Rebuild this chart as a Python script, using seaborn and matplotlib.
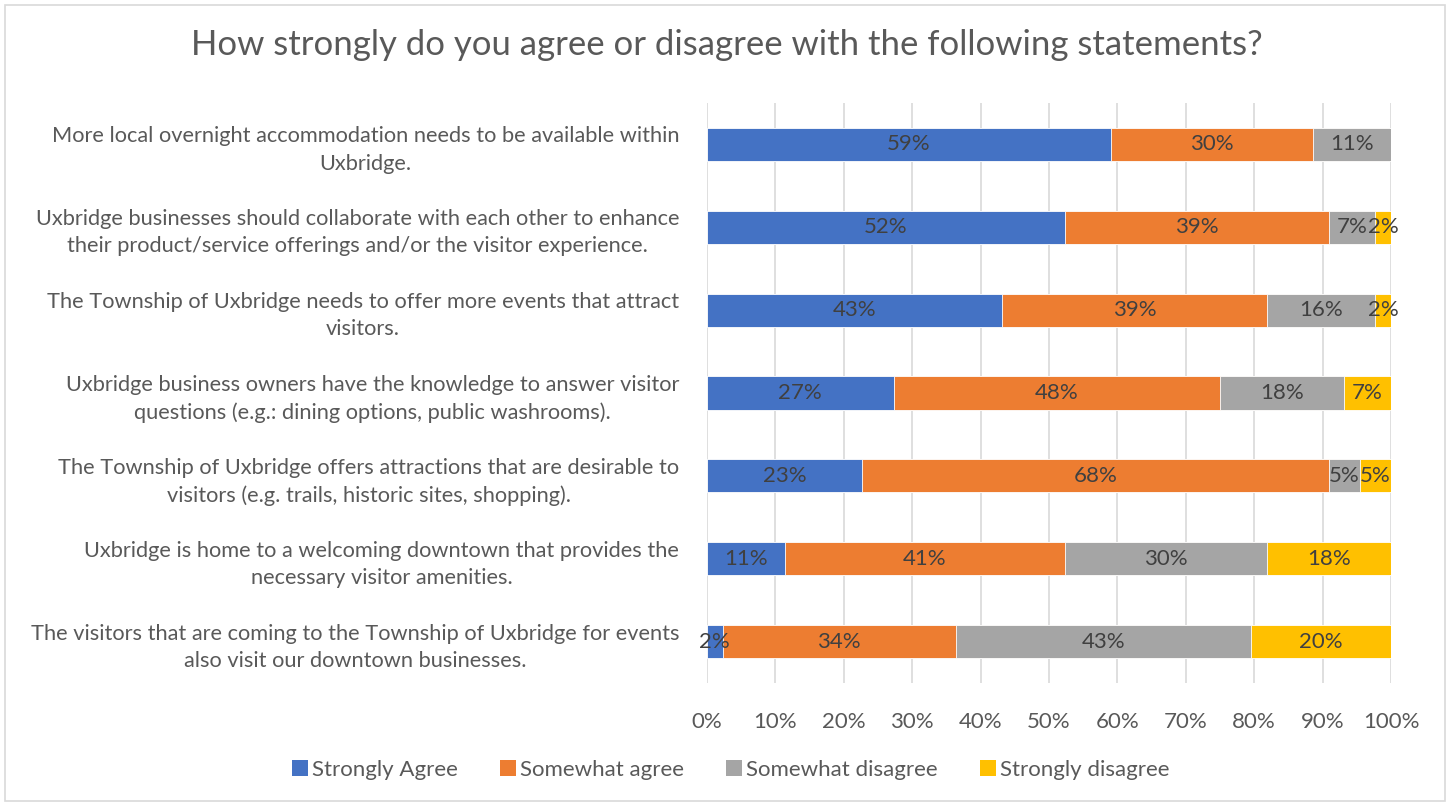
import matplotlib
matplotlib.use("Agg")
import matplotlib.pyplot as plt
from matplotlib.patches import Rectangle, Patch
import numpy as np
import pandas as pd
import seaborn as sns

# Survey statements (top to bottom)
statements = [
    "More local overnight accommodation needs to be available within\nUxbridge.",
    "Uxbridge businesses should collaborate with each other to enhance\ntheir product/service offerings and/or the visitor experience.",
    "The Township of Uxbridge needs to offer more events that attract\nvisitors.",
    "Uxbridge business owners have the knowledge to answer visitor\nquestions (e.g.: dining options, public washrooms).",
    "The Township of Uxbridge offers attractions that are desirable to\nvisitors (e.g. trails, historic sites, shopping).",
    "Uxbridge is home to a welcoming downtown that provides the\nnecessary visitor amenities.",
    "The visitors that are coming to the Township of Uxbridge for events\nalso visit our downtown businesses.",
]

# Share of responses (%) per statement
strongly_agree = [59.09, 52.27, 43.18, 27.27, 22.73, 11.36, 2.27]
somewhat_agree = [29.55, 38.64, 38.64, 47.73, 68.18, 40.91, 34.09]
somewhat_disagree = [11.36, 6.82, 15.91, 18.18, 4.55, 29.55, 43.18]
strongly_disagree = [0.0, 2.27, 2.27, 6.82, 4.55, 18.18, 20.45]

series_names = ["Strongly Agree", "Somewhat agree", "Somewhat disagree", "Strongly disagree"]
series_values = [strongly_agree, somewhat_agree, somewhat_disagree, strongly_disagree]
series_colors = ["#4472C4", "#ED7D31", "#A5A5A5", "#FFC000"]

x_ticks = [0, 10, 20, 30, 40, 50, 60, 70, 80, 90, 100]

sns.set_theme(style="white")
plt.rcParams["font.family"] = ["Lato", "DejaVu Sans"]

text_gray = "#595959"
label_gray = "#404040"
fs = 16

fig = plt.figure(figsize=(14.5, 8.05), dpi=100)
ax = fig.add_axes([707 / 1450, 1 - 683 / 805, 684 / 1450, 580 / 805])

# Build stacked bars: draw cumulative totals from the last series back to the first
vals = np.array(series_values)
cum = np.cumsum(vals, axis=0)
for i in range(len(series_names) - 1, -1, -1):
    df = pd.DataFrame({"statement": statements, "total": cum[i]})
    sns.barplot(data=df, x="total", y="statement", orient="h", color=series_colors[i],
                width=0.4, saturation=1, edgecolor="white", linewidth=0.6, ax=ax, zorder=3)

# Segment value labels
for i in range(len(series_names)):
    for j in range(len(statements)):
        v = vals[i, j]
        if v <= 0:
            continue
        center = cum[i, j] - v / 2
        ax.text(center, j, f"{v:.0f}%", ha="center", va="center",
                fontsize=fs, color=label_gray, zorder=5)

ax.set_xlim(0, 100)
ax.set_ylim(len(statements) - 0.5, -0.5)
ax.set_xticks(x_ticks)
ax.set_xticklabels([f"{t}%" for t in x_ticks], fontsize=fs, color=text_gray)
ax.tick_params(axis="x", length=0, pad=21)
ax.tick_params(axis="y", length=0, pad=20)
for lab in ax.get_yticklabels():
    lab.set_fontsize(15.7)
    lab.set_color(text_gray)
    lab.set_multialignment("center")
    lab.set_linespacing(1.45)
ax.set_xlabel("")
ax.set_ylabel("")
ax.grid(axis="x", color="#D9D9D9", linewidth=1.2, zorder=0)
ax.set_axisbelow(True)
for s in ax.spines.values():
    s.set_visible(False)

fig.text(0.5 * (197 + 1257) / 1450, 1 - 45 / 805,
         "How strongly do you agree or disagree with the following statements?",
         ha="center", va="center", fontsize=25, color=text_gray)

handles = [Patch(facecolor=c, edgecolor="none") for c in series_colors]
fig.legend(handles, series_names, loc="center", bbox_to_anchor=(731 / 1450, 1 - 770 / 805),
           ncol=4, frameon=False, fontsize=fs, labelcolor=text_gray,
           handlelength=0.7, handleheight=0.7, handletextpad=0.2, columnspacing=1.9)

# Chart border
fig.patches.append(Rectangle((5 / 1450, 4 / 805), 1440 / 1450, 796 / 805,
                             transform=fig.transFigure, fill=False,
                             edgecolor="#D9D9D9", linewidth=1.2))

fig.savefig("out.png", dpi=100, facecolor="white")
